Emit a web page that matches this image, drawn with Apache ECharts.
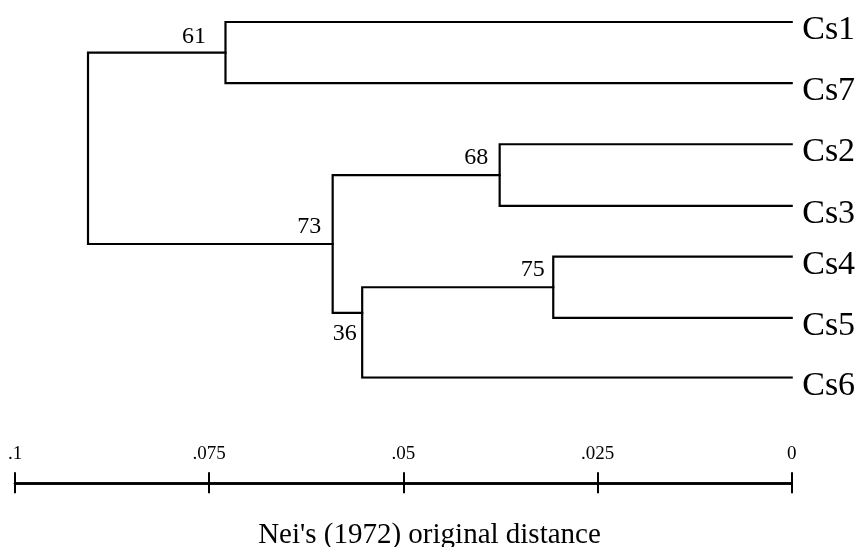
<!DOCTYPE html>
<html>
<head>
<meta charset="utf-8">
<script src="https://cdn.jsdelivr.net/npm/echarts@6/dist/echarts.min.js"></script>
<style>
html,body{margin:0;padding:0;background:#fff;}
#chart{width:859px;height:547px;}
</style>
</head>
<body>
<div id="chart"></div>
<script>
// ---- data ----
const leaves = ['Cs1', 'Cs7', 'Cs2', 'Cs3', 'Cs4', 'Cs5', 'Cs6'];
const leafRow = [0, 1, 2, 3.01, 3.84, 4.84, 5.82];          // vertical order position of each leaf
const nodeNames = ['n61', 'n68', 'n75', 'n36', 'n73', 'root'];
const nodeHeight = [0.0729, 0.0376, 0.0307, 0.0553, 0.0591, 0.0906]; // Nei's distance of each cluster
const nodeRow = [0.5, 2.505, 4.34, 4.758, 3.632, 1.9];        // vertical position of each cluster joint
const nodeChildren = [['Cs1', 'Cs7'], ['Cs2', 'Cs3'], ['Cs4', 'Cs5'], ['n75', 'Cs6'], ['n68', 'n36'], ['n61', 'n73']];
const bootstrap = ['61', '68', '75', '36', '73', ''];
const tickValues = [0.1, 0.075, 0.05, 0.025, 0];
const tickLabels = ['.1', '.075', '.05', '.025', '0'];
const axisTitle = "Nei's (1972) original distance";

// ---- build ----
const FONT = "'Liberation Serif','Times New Roman',serif";
const pos = {};
leaves.forEach((n, i) => { pos[n] = [0, leafRow[i]]; });
nodeNames.forEach((n, i) => { pos[n] = [nodeHeight[i], nodeRow[i]]; });

const branchData = nodeNames.map((n, i) => {
  const a = pos[nodeChildren[i][0]], b = pos[nodeChildren[i][1]];
  const h = nodeHeight[i];
  return { coords: [[a[0], a[1]], [h, a[1]], [h, b[1]], [b[0], b[1]]] };
});

// label placement (style only)
const labelStyle = {
  n61: { align: 'right', verticalAlign: 'bottom', offset: [-19, -3] },
  n68: { align: 'right', verticalAlign: 'bottom', offset: [-11, -5] },
  n75: { align: 'right', verticalAlign: 'bottom', offset: [-8, -5] },
  n73: { align: 'right', verticalAlign: 'bottom', offset: [-11, -5] },
  n36: { align: 'right', verticalAlign: 'top', offset: [-5, 9] }
};

const nodeLabelData = nodeNames.map((n, i) => ({ n: n, t: bootstrap[i], value: pos[n] }))
  .filter(d => d.t !== '')
  .map(d => {
    const s = labelStyle[d.n];
    return {
      value: d.value,
      label: {
        show: true, position: [0, 0], formatter: d.t,
        align: s.align, verticalAlign: s.verticalAlign, offset: s.offset,
        fontFamily: FONT, fontSize: 24, color: '#000', opacity: 1
      }
    };
  });

const leafLabelData = leaves.map((n, i) => ({ name: n, value: [0, leafRow[i]] }));

function tickFmt(v) {
  for (let i = 0; i < tickValues.length; i++) {
    if (Math.abs(tickValues[i] - v) < 1e-9) return tickLabels[i];
  }
  return '';
}

const chart = echarts.init(document.getElementById('chart'), null, { renderer: 'canvas' });
const option = {
  backgroundColor: '#fff',
  animation: false,
  title: {
    text: axisTitle,
    left: 'center',
    top: 521,
    padding: 0,
    textStyle: { fontFamily: FONT, fontSize: 29, fontWeight: 'normal', color: '#000' }
  },
  grid: [
    { left: 15, right: 67.3, top: 22, height: 355.7 },
    { left: 15, right: 67.3, top: 482.8, height: 0.4 }
  ],
  xAxis: [
    { gridIndex: 0, type: 'value', inverse: true, min: 0, max: 0.1, show: false },
    {
      gridIndex: 1, type: 'value', inverse: true, min: 0, max: 0.1, interval: 0.025, position: 'top',
      axisLine: { show: true, lineStyle: { color: '#000', width: 2.5 } },
      axisTick: { show: true, inside: false, length: 11, lineStyle: { color: '#000', width: 2 } },
      axisLabel: { show: true, margin: 19, formatter: tickFmt, fontFamily: FONT, fontSize: 19, color: '#000' },
      splitLine: { show: false }
    },
    {
      gridIndex: 1, type: 'value', inverse: true, min: 0, max: 0.1, interval: 0.025, position: 'bottom',
      axisLine: { show: true, lineStyle: { color: '#000', width: 2.5 } },
      axisTick: { show: true, inside: false, length: 10, lineStyle: { color: '#000', width: 2 } },
      axisLabel: { show: false },
      splitLine: { show: false }
    }
  ],
  yAxis: [
    { gridIndex: 0, type: 'value', inverse: true, min: 0, max: 5.82, show: false },
    { gridIndex: 1, type: 'value', min: 0, max: 1, show: false }
  ],
  series: [
    {
      type: 'lines', coordinateSystem: 'cartesian2d', xAxisIndex: 0, yAxisIndex: 0,
      polyline: true, silent: true,
      lineStyle: { color: '#000', width: 2.2, opacity: 1, curveness: 0, join: 'miter', cap: 'square' },
      data: branchData
    },
    {
      type: 'scatter', xAxisIndex: 0, yAxisIndex: 0, symbolSize: 1, silent: true,
      itemStyle: { color: 'rgba(0,0,0,0)', opacity: 1 },
      data: nodeLabelData
    },
    {
      type: 'scatter', xAxisIndex: 0, yAxisIndex: 0, symbolSize: 1, silent: true,
      itemStyle: { color: 'rgba(0,0,0,0)', opacity: 1 },
      label: {
        show: true, position: 'right', distance: 10, offset: [0, 8],
        formatter: p => p.name, fontFamily: FONT, fontSize: 34, color: '#000', opacity: 1
      },
      data: leafLabelData
    }
  ]
};
chart.setOption(option);
</script>
</body>
</html>
